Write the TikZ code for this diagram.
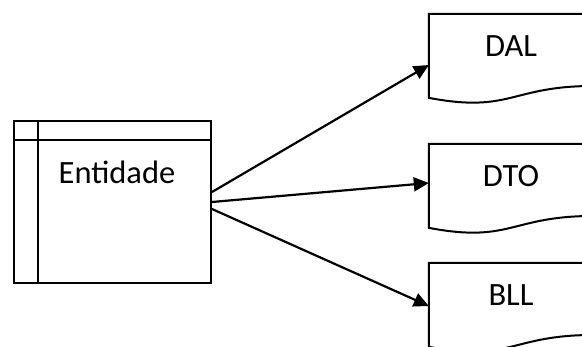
\documentclass[tikz,border=0pt]{standalone}
\usepackage{fontspec}
\setmainfont{Carlito}
\usetikzlibrary{arrows.meta,calc}
\begin{document}
\begin{tikzpicture}[x=1pt,y=-1pt,
  outline/.style={draw=black,line width=2pt},
  label/.style={font=\fontsize{32.5}{38}\selectfont,inner sep=0pt},
  docbox/.style={minimum width=164pt,minimum height=90pt,inner sep=0pt},
  link/.style={line width=2.2pt,-{Triangle[length=15pt,width=14pt]}}]
  \useasboundingbox (0,0) rectangle (582,346);
  \clip (0,0) rectangle (582,346);

  % internal-storage entity box
  \node[minimum width=197pt,minimum height=162pt,inner sep=0pt,outline] (ent) at (112.5,202) {};
  \draw[outline] ($(ent.north west)+(24.6,0)$) -- ($(ent.south west)+(24.6,0)$);
  \draw[outline] ($(ent.north west)+(0,20.25)$) -- ($(ent.north east)+(0,20.25)$);
  \node[label] (entlbl) at (117,172) {Entidade};

  % document shapes
  \foreach \n/\t/\ty in {dal/DAL/14, dto/DTO/144, bll/BLL/263}{
    \node[docbox] (\n) at (511,\ty+45) {};
    \draw[outline,line join=miter] (\n.north west) -- (\n.north east)
      -- ($(\n.north east)+(0,72.18)$)
      .. controls ($(\n.north west)+(82,72.18)$) and ($(\n.north west)+(82,99.68)$)
      .. ($(\n.north west)+(0,84.05)$) -- cycle;
    \node[label] (\n lbl) at (511,\ty+32) {\t};
  }

  % connectors
  \draw[link] ($(ent.east)+(0,-10)$) -- ($(dal.west)+(0,6)$);
  \draw[link] ($(ent.east)+(0,0)$) -- ($(dto.west)+(0,-6)$);
  \draw[link] ($(ent.east)+(0,7)$) -- ($(bll.west)+(0,-2)$);
\end{tikzpicture}
\end{document}
